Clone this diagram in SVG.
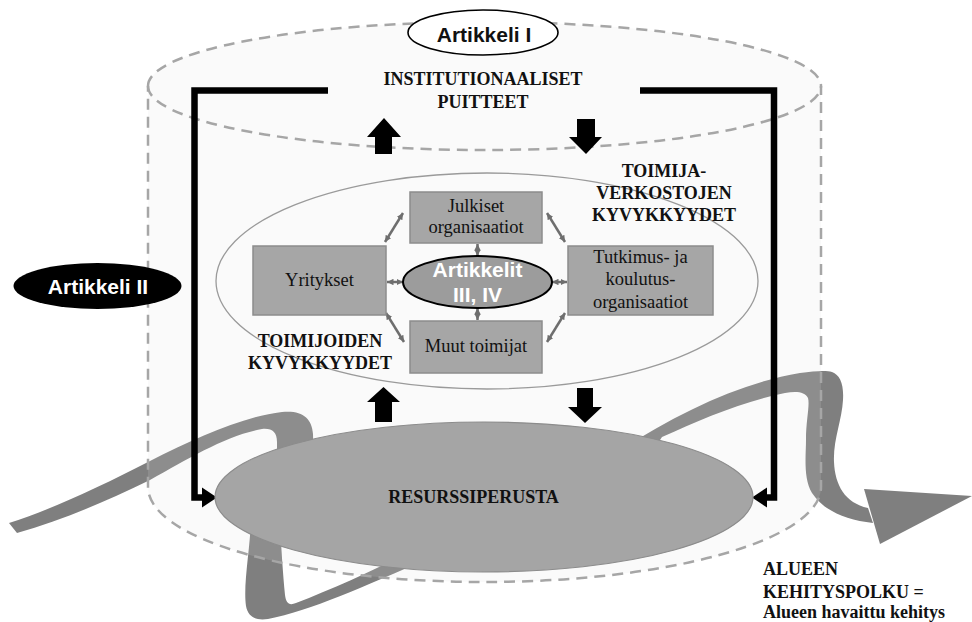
<svg xmlns="http://www.w3.org/2000/svg" width="972" height="622" viewBox="0 0 972 622">
  <defs>
    <style>
      .ribbon { fill: #7f7f7f; }
      .cyl { fill: #e0e0e0; fill-opacity: 0.15; stroke: #a6a6a6; stroke-width: 2.5; stroke-dasharray: 11 7; }
      .cyl-rim { fill: none; stroke: #a6a6a6; stroke-width: 2.5; stroke-dasharray: 11 7; }
      .bracket { fill: none; stroke: #000; stroke-width: 6.5; stroke-linejoin: miter; }
      .solid { fill: #000; }
      .box { fill: #a6a6a6; stroke: #8c8c8c; stroke-width: 1.5; }
      .link { stroke: #6e6e6e; stroke-width: 2.5; fill: none; marker-start: url(#tip); marker-end: url(#tip); }
      .cap { font-family: "Liberation Serif", "Times New Roman", serif; font-weight: bold; font-size: 18px; fill: #111; text-anchor: middle; }
      .node { font-family: "Liberation Serif", "Times New Roman", serif; font-size: 18.5px; fill: #111; text-anchor: middle; }
      .tag { font-family: "Liberation Sans", Arial, sans-serif; font-weight: bold; font-size: 21px; text-anchor: middle; }
    </style>
    <marker id="tip" viewBox="0 0 10 10" refX="10" refY="5" markerWidth="2.6" markerHeight="2.6" orient="auto-start-reverse">
      <path d="M0,0 L10,5 L0,10 z" fill="#6e6e6e"/>
    </marker>
  </defs>

  <rect width="972" height="622" fill="#fff"/>

  <!-- development path ribbon (drawn first, passes behind the resource base) -->
  <g id="kehityspolku">
    <path class="ribbon" d="M9,523 C45,512 100,487 150,461 C195,438 245,416 282,412 C302,410 312,418 313,434 L314,478 L277,478 L277,442 C277,432 272,428 262,429 C225,436 190,458 150,480 C105,502 60,521 17,533 Z"/>
    <path class="ribbon" d="M251,520 C250,550 243,585 246,606 C248,617 256,621 268,619 C310,611 365,586 425,560 L410,552 C370,572 330,590 296,603 C289,606 286,603 285,595 C283,575 281,545 280,520 Z"/>
    <path class="ribbon" d="M620,450 C680,412 740,383 800,373 C815,371 826,370 832,372 C840,375 844,384 843,400 C842,420 833,440 834,462 C835,485 845,503 868,508 L873,523 C845,520 823,510 812,493 C803,478 806,455 806,440 C806,420 810,405 808,398 C805,392 797,391 785,393 C740,402 700,420 662,437 L650,455 Z"/>
    <polygon class="ribbon" points="864,489 972,496 880,544"/>
  </g>

  <!-- region cylinder -->
  <g id="alue">
    <path class="cyl" d="M148,86 A336.5,64 0 0 1 821,86 L821,487 A336.5,95 0 0 1 148,487 Z"/>
    <path class="cyl-rim" d="M148,86 A336.5,64 0 0 0 821,86"/>
  </g>

  <!-- actor network boundary -->
  <g id="verkosto">
    <ellipse cx="487" cy="281" rx="271" ry="108" fill="none" stroke="#9a9a9a" stroke-width="1.3"/>
  </g>

  <!-- feedback brackets and block arrows -->
  <g id="connectors">
    <path class="bracket" d="M328,90.5 H194.5 V497.5 H204"/>
    <polygon class="solid" points="202,487.5 217,497.5 202,507.5"/>
    <path class="bracket" d="M640,90.5 H774 V497.5 H765"/>
    <polygon class="solid" points="767,487.5 752,497.5 767,507.5"/>

    <polygon class="solid" points="384,118 401,137 392,137 392,154 375,154 375,137 367,137"/>
    <polygon class="solid" points="577,119 595,119 595,137 602,137 586,154 569,137 577,137"/>
    <polygon class="solid" points="383.5,387 400,402 392,402 392,422 375,422 375,402 367,402"/>
    <polygon class="solid" points="577,388 593,388 593,407 602,407 585,423 568,407 577,407"/>

    <line class="link" x1="403" y1="213" x2="385" y2="242"/>
    <line class="link" x1="547" y1="213" x2="565" y2="242"/>
    <line class="link" x1="386" y1="313" x2="404" y2="342"/>
    <line class="link" x1="565" y1="313" x2="547" y2="342"/>
    <line class="link" x1="477.5" y1="244" x2="477.5" y2="256"/>
    <line class="link" x1="477.5" y1="308" x2="477.5" y2="320"/>
    <line class="link" x1="387" y1="282" x2="403" y2="282"/>
    <line class="link" x1="552" y1="282" x2="567" y2="282"/>
  </g>

  <!-- resource base -->
  <g id="resurssiperusta">
    <ellipse cx="484" cy="497" rx="269" ry="75" fill="#a5a5a5" stroke="#8c8c8c" stroke-width="1.2"/>
    <text class="cap" x="473.5" y="503">RESURSSIPERUSTA</text>
  </g>

  <!-- actor nodes -->
  <g id="julkiset">
    <rect class="box" x="410" y="192" width="132" height="51"/>
    <text class="node" x="476" y="212">Julkiset</text>
    <text class="node" x="476" y="233">organisaatiot</text>
  </g>
  <g id="yritykset">
    <rect class="box" x="253" y="246" width="133" height="69"/>
    <text class="node" x="319.5" y="286">Yritykset</text>
  </g>
  <g id="tutkimus">
    <rect class="box" x="568" y="246" width="145" height="69"/>
    <text class="node" x="640.5" y="263">Tutkimus- ja</text>
    <text class="node" x="640.5" y="285">koulutus-</text>
    <text class="node" x="640.5" y="307.5">organisaatiot</text>
  </g>
  <g id="muut">
    <rect class="box" x="410" y="321" width="132" height="52"/>
    <text class="node" x="476" y="352">Muut toimijat</text>
  </g>
  <g id="artikkelit-3-4">
    <ellipse cx="477.5" cy="282" rx="74.5" ry="26" fill="#9c9c9c" stroke="#000" stroke-width="2"/>
    <text class="tag" x="477.5" y="277" fill="#fff" font-size="22">Artikkelit</text>
    <text class="tag" x="477.5" y="302" fill="#fff" font-size="22">III, IV</text>
  </g>

  <!-- level labels -->
  <g id="institutionaaliset">
    <text class="cap" x="483" y="85" font-size="19">INSTITUTIONAALISET</text>
    <text class="cap" x="483" y="108" font-size="19">PUITTEET</text>
  </g>
  <g id="verkostot">
    <text class="cap" x="664" y="177">TOIMIJA-</text>
    <text class="cap" x="664" y="199">VERKOSTOJEN</text>
    <text class="cap" x="664" y="221">KYVYKKYYDET</text>
  </g>
  <g id="toimijat">
    <text class="cap" x="320" y="347">TOIMIJOIDEN</text>
    <text class="cap" x="320" y="368.5">KYVYKKYYDET</text>
  </g>
  <g id="kehitys">
    <text class="cap" x="763" y="575" style="text-anchor:start">ALUEEN</text>
    <text class="cap" x="763" y="598" style="text-anchor:start">KEHITYSPOLKU =</text>
    <text class="cap" x="763" y="618" font-size="14.5" style="text-anchor:start">Alueen havaittu kehitys</text>
  </g>

  <!-- article tags -->
  <g id="artikkeli-1">
    <ellipse cx="483" cy="32.5" rx="75" ry="22.5" fill="#fff" stroke="#000" stroke-width="1.6"/>
    <text class="tag" x="484" y="42" fill="#111">Artikkeli I</text>
  </g>
  <g id="artikkeli-2">
    <ellipse cx="97.5" cy="286" rx="84" ry="23" fill="#000"/>
    <text class="tag" x="98" y="294" fill="#fff">Artikkeli II</text>
  </g>
</svg>
